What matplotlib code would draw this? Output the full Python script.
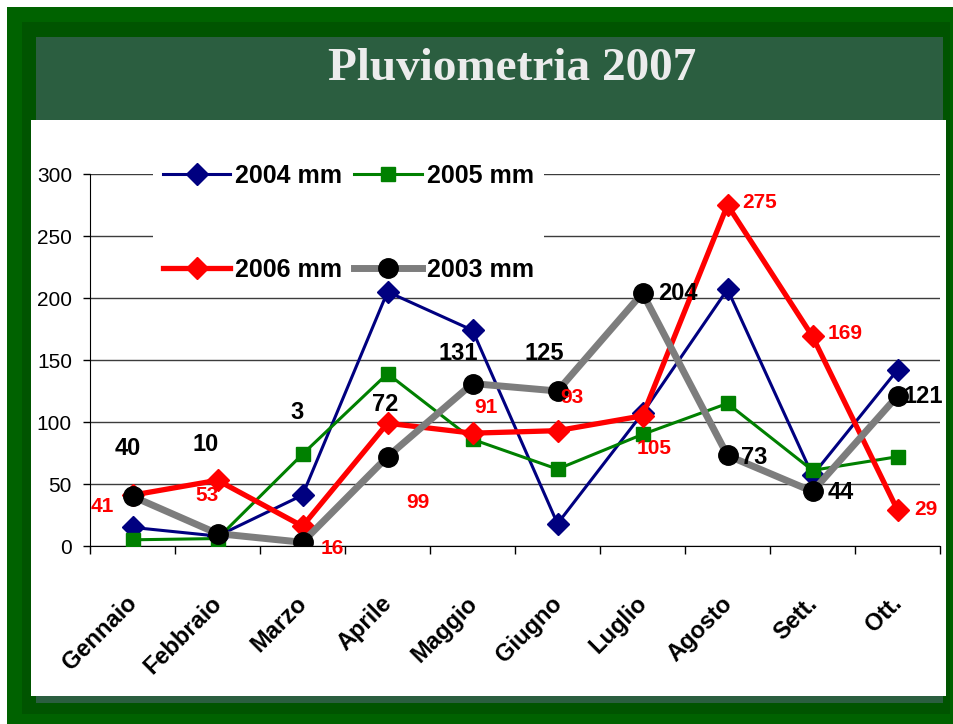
import matplotlib.pyplot as plt
from matplotlib.patches import Rectangle
from matplotlib.transforms import ScaledTranslation

# monthly rainfall (mm)
months = ["Gennaio", "Febbraio", "Marzo", "Aprile", "Maggio",
          "Giugno", "Luglio", "Agosto", "Sett.", "Ott."]
mm_2004 = [15, 8, 41, 205, 174, 18, 107, 207, 57, 142]
mm_2005 = [5, 6, 74, 139, 86, 62, 90, 115, 61, 72]
mm_2006 = [41, 53, 16, 99, 91, 93, 105, 275, 169, 29]
mm_2003 = [40, 10, 3, 72, 131, 125, 204, 73, 44, 121]

# label offsets in pixels (dx, dy), moved by hand like in the original
off_2006 = [(-30, -11), (-10, -15), (30, -22), (30, -79), (13, 26),
            (14, 33), (12, -33), (32, 2), (33, 3), (28, 1)]
off_2003 = [(-5, 48), (-12, 89), (-5, 130), (-2, 52), (-14, 30),
            (-13, 38), (35, 0), (27, -2), (28, -1), (26, -1)]

W, H = 954, 724
fig = plt.figure(figsize=(W / 100, H / 100), dpi=100)
fig.patch.set_facecolor("white")


def box(x0, y0, x1, y1, color, z):
    # rectangle given in pixel coords, y measured from the top
    r = Rectangle((x0 / W, 1 - y1 / H), (x1 - x0) / W, (y1 - y0) / H,
                  transform=fig.transFigure, facecolor=color,
                  edgecolor="none", zorder=z)
    fig.add_artist(r)


# green frame, marble band, white panel
box(7, 7, 954, 724, "#006200", -5)
box(22, 22, 950, 714, "#005400", -4.5)
box(36, 37, 943, 120, "#2b5e40", -4)
box(36, 690, 943, 703, "#2b5e40", -4)
box(31, 120, 946, 696, "white", -3)

fig.text(512 / W, 1 - 80 / H, "Pluviometria 2007", ha="center", va="baseline",
         family="Liberation Serif", weight="bold", fontsize=34, color="#ececec")

ax = fig.add_axes([90 / W, 1 - 546 / H, 850 / W, 372 / H])
ax.set_zorder(1)
ax.patch.set_alpha(0)

x = list(range(len(months)))
ax.plot(x, mm_2004, color="#000080", lw=2.2, marker="D", ms=11, zorder=3, label="2004 mm")
ax.plot(x, mm_2005, color="#008000", lw=2.2, marker="s", ms=10, zorder=3.1, label="2005 mm")
ax.plot(x, mm_2006, color="#ff0000", lw=3.8, marker="D", ms=11, zorder=3.2, label="2006 mm")
ax.plot(x, mm_2003, color="#7d7d7d", lw=5, marker="o", ms=14, mfc="black", mec="black",
        zorder=3.3, label="2003 mm")

for i in x:
    ax.annotate(str(mm_2006[i]), (i, mm_2006[i]), xytext=off_2006[i],
                textcoords="offset pixels", ha="center", va="center",
                color="#ff0000", fontsize=15, weight="bold",
                family="Liberation Sans", annotation_clip=False, zorder=5)
    ax.annotate(str(mm_2003[i]), (i, mm_2003[i]), xytext=off_2003[i],
                textcoords="offset pixels", ha="center", va="center",
                color="black", fontsize=17, weight="bold",
                family="Liberation Sans", annotation_clip=False, zorder=5)

ax.set_xlim(-0.5, len(months) - 0.5)
ax.set_ylim(0, 300)
ax.set_yticks(range(0, 301, 50))
ax.set_xticks(x)
ax.set_xticklabels(months, rotation=45, ha="right", va="top",
                   rotation_mode="anchor", fontsize=17, weight="bold",
                   family="Liberation Sans")
ax.set_xticks([i - 0.5 for i in range(len(months) + 1)], minor=True)
ax.tick_params(axis="x", which="major", length=0, pad=33)
ax.tick_params(axis="x", which="minor", length=6, width=1, direction="out")
ax.tick_params(axis="y", length=5, width=1, direction="out", pad=8, labelsize=15)
for lab in ax.get_yticklabels():
    lab.set_family("Liberation Sans")
shift = ScaledTranslation(-7 / 100, 0, fig.dpi_scale_trans)
for lab in ax.get_xticklabels():
    lab.set_transform(lab.get_transform() + shift)

ax.grid(axis="y", color="#3c3c3c", lw=1)
ax.set_axisbelow(True)
for s in ["top", "right"]:
    ax.spines[s].set_visible(False)
for s in ["left", "bottom"]:
    ax.spines[s].set_color("black")

handles, labels = ax.get_legend_handles_labels()
order = [0, 2, 1, 3]
leg = ax.legend([handles[k] for k in order], [labels[k] for k in order],
                ncol=2, loc="upper left", bbox_to_anchor=(0.074, 1.055),
                borderaxespad=0, frameon=True, fancybox=False,
                handlelength=2.7, handletextpad=0.2, columnspacing=0.48,
                labelspacing=2.8, borderpad=0.4,
                prop={"family": "Liberation Sans", "weight": "bold", "size": 18})
leg.get_frame().set_facecolor("white")
leg.get_frame().set_edgecolor("none")
leg.get_frame().set_alpha(1)
leg.set_zorder(2)

fig.savefig("out.png", dpi=100)
